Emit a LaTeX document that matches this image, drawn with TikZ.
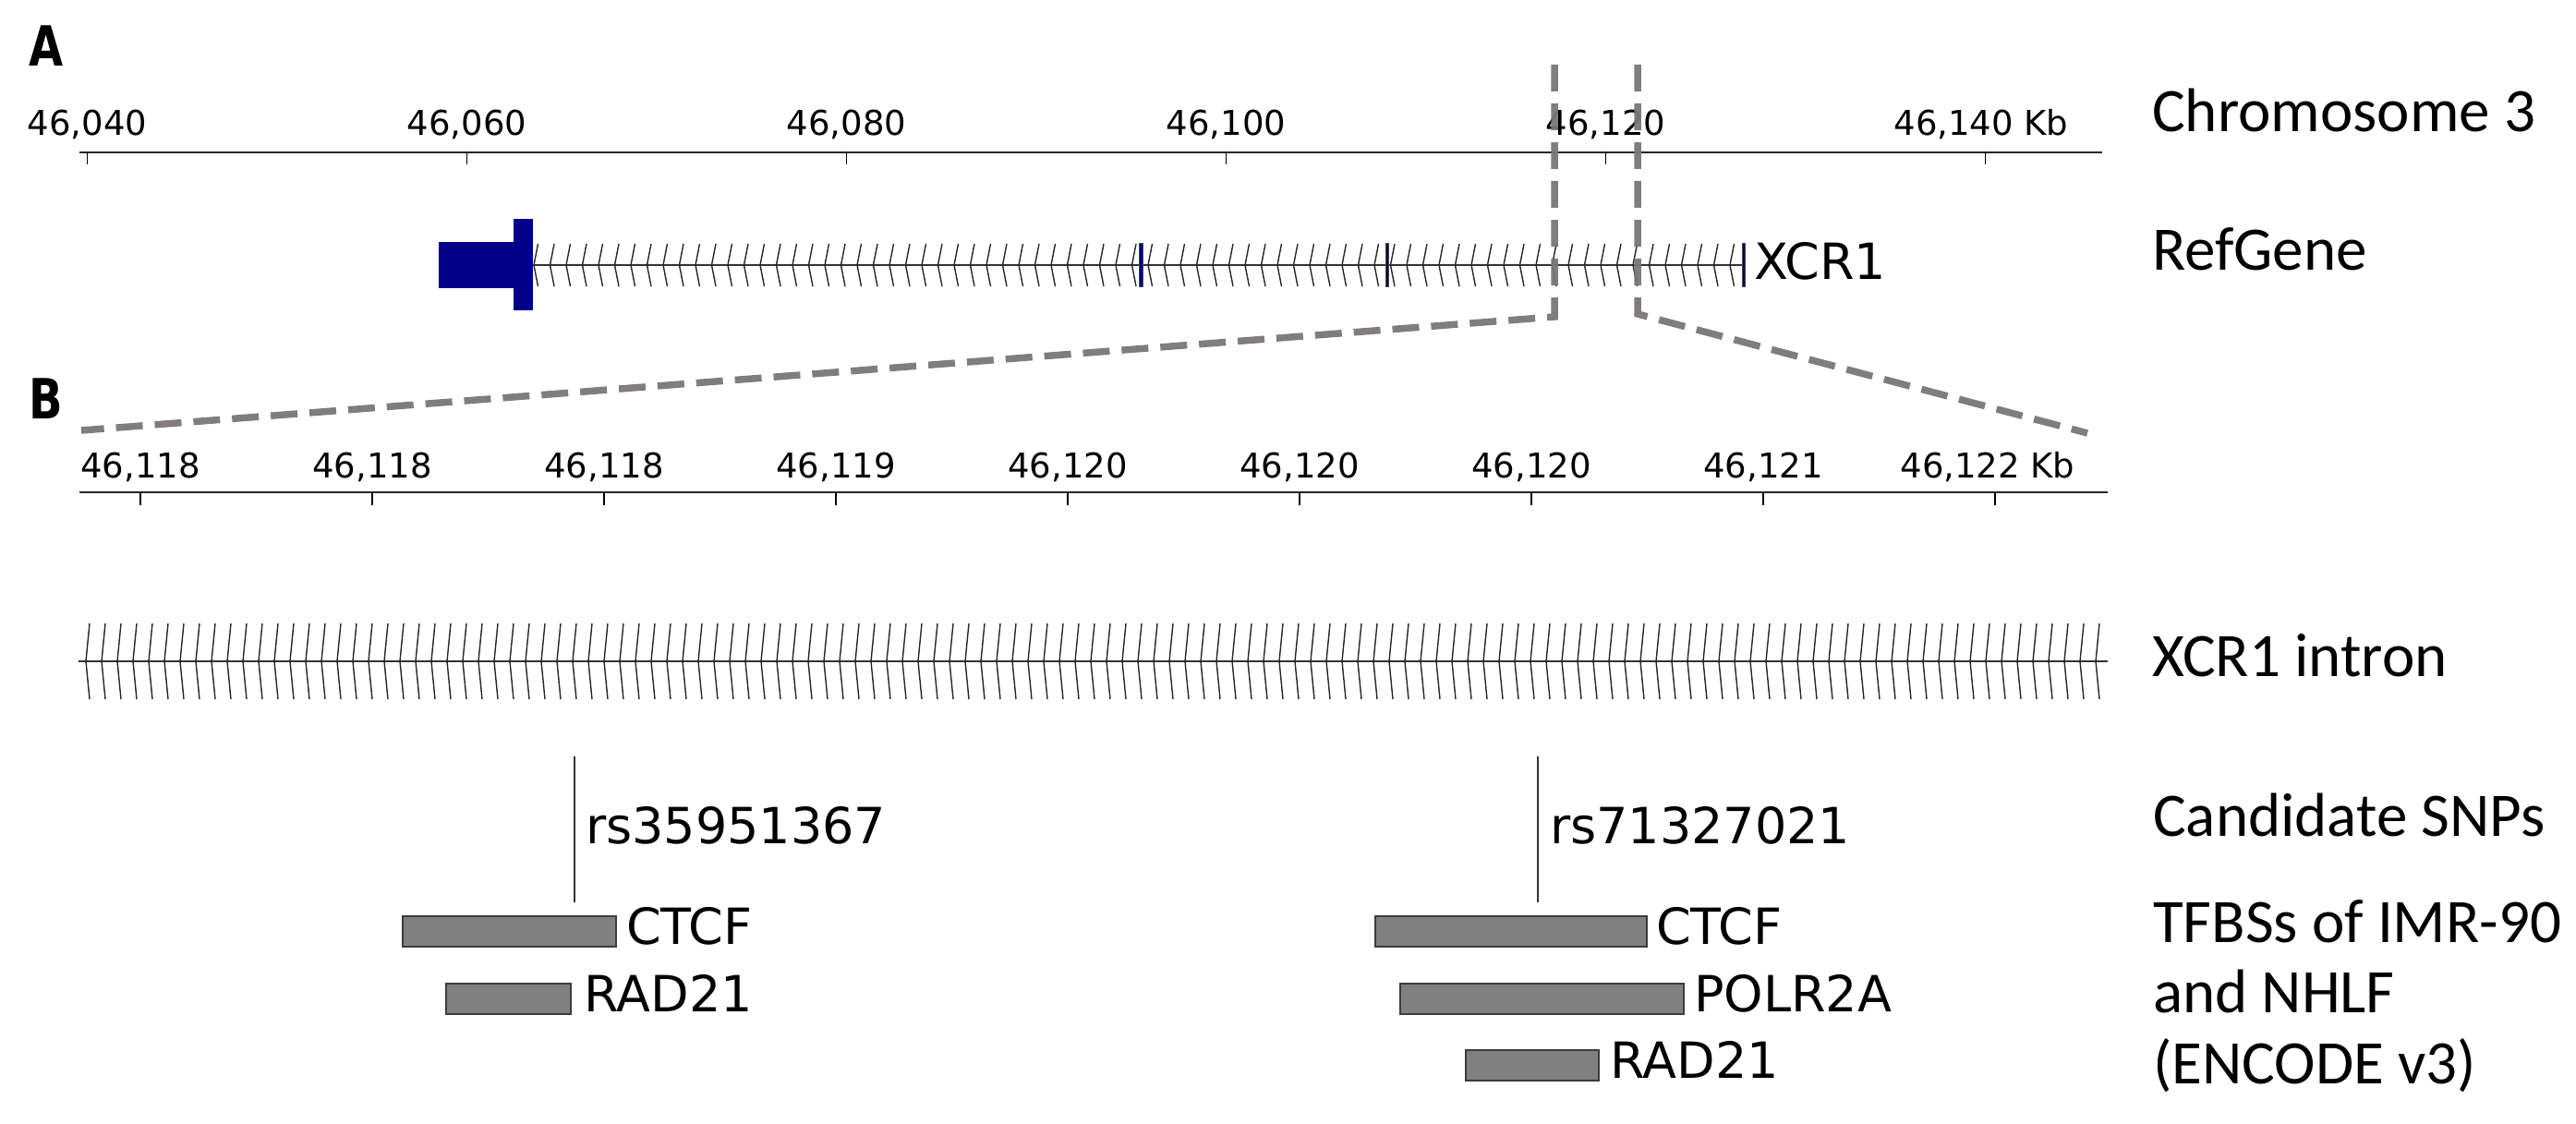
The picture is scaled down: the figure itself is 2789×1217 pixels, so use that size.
\documentclass[tikz,border=0pt]{standalone}
\usepackage{fontspec}
\setmainfont{DejaVu Sans}
\newfontfamily\carl{Carlito}
\definecolor{navy}{RGB}{0,0,136}
\definecolor{dashgray}{RGB}{122,118,118}
\definecolor{boxgray}{RGB}{128,128,128}
\definecolor{boxedge}{RGB}{60,60,60}
\tikzset{
  axisline/.style={line width=2.8pt, black!85},
  tickmark/.style={line width=1.8pt, black},
  axlab/.style={font=\fontsize{37}{40}\selectfont, inner sep=0pt, anchor=base},
  trlab/.style={font=\fontsize{54}{60}\selectfont, inner sep=0pt, anchor=base west},
  rlab/.style={font=\carl\fontsize{67}{77}\selectfont, inner sep=0pt, anchor=base west},
  panellab/.style={font=\bfseries\fontsize{60}{62}\selectfont, inner sep=0pt, anchor=base west},
  chev/.style={line width=1.4pt, black!85},
  midline/.style={line width=2pt, black!80},
  tfbox/.style={draw=boxedge, fill=boxgray, line width=1.8pt, inner sep=0pt, anchor=north west},
  snpline/.style={line width=1.8pt, black!80},
  zoomline/.style={line width=7.5pt, dashgray, dash pattern=on 29pt off 13pt, opacity=0.95}
}
\begin{document}
\begin{tikzpicture}[x=1pt,y=-1pt]
\useasboundingbox (0,0) rectangle (2789,1217);

% panel labels
\node[panellab] (pA) at (31,72) {\scalebox{0.8}[1]{A}};
\node[panellab] (pB) at (31,453) {\scalebox{0.8}[1]{B}};

% ---------- Panel A axis ----------
\draw[axisline] (86,165) -- (2276,165);
\foreach \x in {94.5,505.5,916.5,1327.5,1738.5,2149.5} {\draw[tickmark] (\x,165) -- (\x,178);}
\node[axlab] (a0) at (94.5,147) {46,040};
\node[axlab] (a1) at (505.5,147) {46,060};
\node[axlab] (a2) at (916.5,147) {46,080};
\node[axlab] (a3) at (1327.5,147) {46,100};
\node[axlab] (a4) at (1738.5,147) {46,120};
\node[axlab] (a5) at (2145,147) {46,140 Kb};

% ---------- Panel A gene ----------
\draw[midline] (577,287) -- (1888,287);
\foreach \i in {0,...,74} {\draw[chev] ({578+17.5*\i+4.5},264) -- ({578+17.5*\i},287) -- ({578+17.5*\i+4.5},310);}
\fill[navy] (475,262) rectangle (577,312);
\fill[navy] (556,237) rectangle (577,336);
\filldraw[fill=navy, draw=black!70, line width=0.6pt] (1233,263) rectangle (1237,310);
\filldraw[fill=navy!40!black, draw=black!70, line width=0.6pt] (1500.5,263) rectangle (1503.5,310);
\filldraw[fill=navy!60!black, draw=black!70, line width=0.6pt] (1886.5,263) rectangle (1889.5,310);
\node[trlab] (xcr1) at (1899,302) {XCR1};

% right labels
\node[rlab] (chr) at (2330,143) {Chromosome 3};
\node[rlab] (refg) at (2330,292) {RefGene};

% ---------- Panel B axis ----------
\draw[axisline] (86,533) -- (2282,533);
\foreach \x in {152,403,654,905,1156,1407,1658,1909,2160} {\draw[tickmark] (\x,533) -- (\x,547);}
\node[axlab] (b0) at (152,517) {46,118};
\node[axlab] (b1) at (403,517) {46,118};
\node[axlab] (b2) at (654,517) {46,118};
\node[axlab] (b3) at (905,517) {46,119};
\node[axlab] (b4) at (1156,517) {46,120};
\node[axlab] (b5) at (1407,517) {46,120};
\node[axlab] (b6) at (1658,517) {46,120};
\node[axlab] (b7) at (1909,517) {46,121};
\node[axlab] (b8) at (2152,517) {46,122 Kb};

% ---------- Panel B intron ----------
\draw[midline] (85,716) -- (2282,716);
\foreach \i in {0,...,128} {\draw[chev] ({93+17*\i+4},675) -- ({93+17*\i},716) -- ({93+17*\i+4},757);}
\node[rlab] (intr) at (2330,732) {XCR1 intron};

% ---------- SNPs ----------
\coordinate (s1t) at (622,819); \coordinate (s1b) at (622,977);
\coordinate (s2t) at (1665,819); \coordinate (s2b) at (1665,977);
\draw[snpline] (s1t) -- (s1b);
\draw[snpline] (s2t) -- (s2b);
\node[trlab] (rs1) at (634,913) {rs35951367};
\node[trlab] (rs2) at (1678,913) {rs71327021};
\node[rlab] (cand) at (2331,905) {Candidate SNPs};

% ---------- TFBS ----------
\node[tfbox, minimum width=231pt, minimum height=33pt] (ctcf1) at (435,991) {};
\node[tfbox, minimum width=135pt, minimum height=33pt] (rad1) at (482,1064) {};
\node[tfbox, minimum width=294pt, minimum height=33pt] (ctcf2) at (1488,991) {};
\node[tfbox, minimum width=307pt, minimum height=33pt] (polr) at (1515,1064) {};
\node[tfbox, minimum width=144pt, minimum height=33pt] (rad2) at (1586,1136) {};
\node[trlab] (lctcf1) at (678,1022) {CTCF};
\node[trlab] (lrad1) at (632,1095) {RAD21};
\node[trlab] (lctcf2) at (1793,1022) {CTCF};
\node[trlab] (lpolr) at (1834,1095) {POLR2A};
\node[trlab] (lrad2) at (1743,1167) {RAD21};
\node[rlab] (tf1) at (2331,1020) {TFBSs of IMR-90};
\node[rlab] (tf2) at (2331,1096) {and NHLF};
\node[rlab] (tf3) at (2331,1173) {(ENCODE v3)};

% ---------- zoom lines ----------
\coordinate (zlt) at (1683,70); \coordinate (zlm) at (1683,343); \coordinate (zlb) at (88,466);
\coordinate (zrt) at (1773,70); \coordinate (zrm) at (1773,340); \coordinate (zrb) at (2260,469);
\draw[zoomline] (zlt) -- (zlm) -- (zlb);
\draw[zoomline] (zrt) -- (zrm) -- (zrb);
\end{tikzpicture}
\end{document}
